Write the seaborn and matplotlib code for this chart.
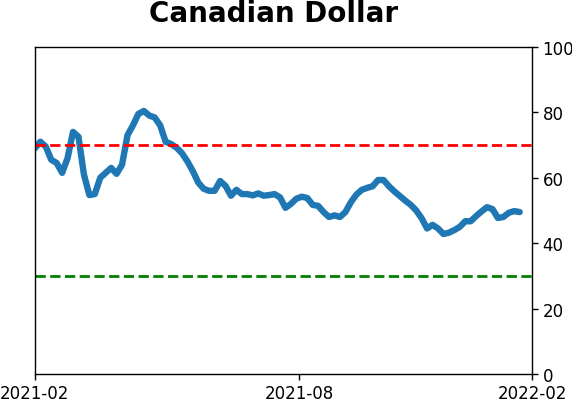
import matplotlib
matplotlib.use("Agg")
import matplotlib.pyplot as plt
import matplotlib.dates as mdates
import seaborn as sns
import pandas as pd
import numpy as np

title = "Canadian Dollar"
start_date = "2021-02-01"
step = "4D"
values = [69, 71, 69.5, 65.5, 64.5, 61.5, 66, 74, 72.5, 61,
          54.7, 55, 60, 61.5, 63, 61.2, 64, 73, 76, 79.5,
          80.4, 79, 78.4, 76, 71, 70.3, 69.2, 67.5, 65, 62,
          58.5, 56.6, 56, 56, 59, 57.5, 54.5, 56.3, 55, 55,
          54.6, 55.2, 54.5, 54.7, 55, 54, 50.8, 52, 53.6, 54.2,
          53.8, 51.7, 51.4, 49.5, 48, 48.5, 48, 49.5, 52.5, 54.8,
          56.3, 56.9, 57.4, 59.3, 59.3, 57.4, 55.8, 54.4, 53, 51.7,
          50, 47.6, 44.5, 45.6, 44.5, 42.8, 43.2, 44, 45, 46.7,
          46.7, 48.3, 49.7, 51, 50.4, 47.7, 48, 49.3, 49.8, 49.5]
upper_line = 70
lower_line = 30
x_ticks = ["2021-02-01", "2021-08-14", "2022-02-01"]
y_ticks = [0, 20, 40, 60, 80, 100]

dates = pd.date_range(start_date, periods=len(values), freq=step)
df = pd.DataFrame({"date": dates, "value": values})

sns.set_style("ticks")
plt.rcParams["text.color"] = "black"
fig = plt.figure(figsize=(5.72, 4.02), dpi=100)
ax = fig.add_axes([0.061, 0.067, 0.869, 0.814])

sns.lineplot(data=df, x="date", y="value", ax=ax, color="#1f77b4", linewidth=4.6)
ax.axhline(upper_line, color="red", linestyle="--", linewidth=2)
ax.axhline(lower_line, color="green", linestyle="--", linewidth=2)

ax.set_ylim(0, 100)
ax.set_xlim(pd.Timestamp(x_ticks[0]), pd.Timestamp(x_ticks[-1]))
ax.set_xticks([pd.Timestamp(t) for t in x_ticks])
ax.xaxis.set_major_formatter(mdates.DateFormatter("%Y-%m"))
ax.set_yticks(y_ticks)
ax.yaxis.tick_right()
ax.tick_params(labelsize=12, colors="black", length=4, width=1)
for s in ax.spines.values():
    s.set_visible(True)
    s.set_color("black")
    s.set_linewidth(1)
ax.set_xlabel("")
ax.set_ylabel("")
fig.text(274 / 572, 1 - 14 / 402, title, fontsize=20, fontweight="bold",
         color="black", ha="center", va="center")

fig.savefig("out.png", dpi=100)
